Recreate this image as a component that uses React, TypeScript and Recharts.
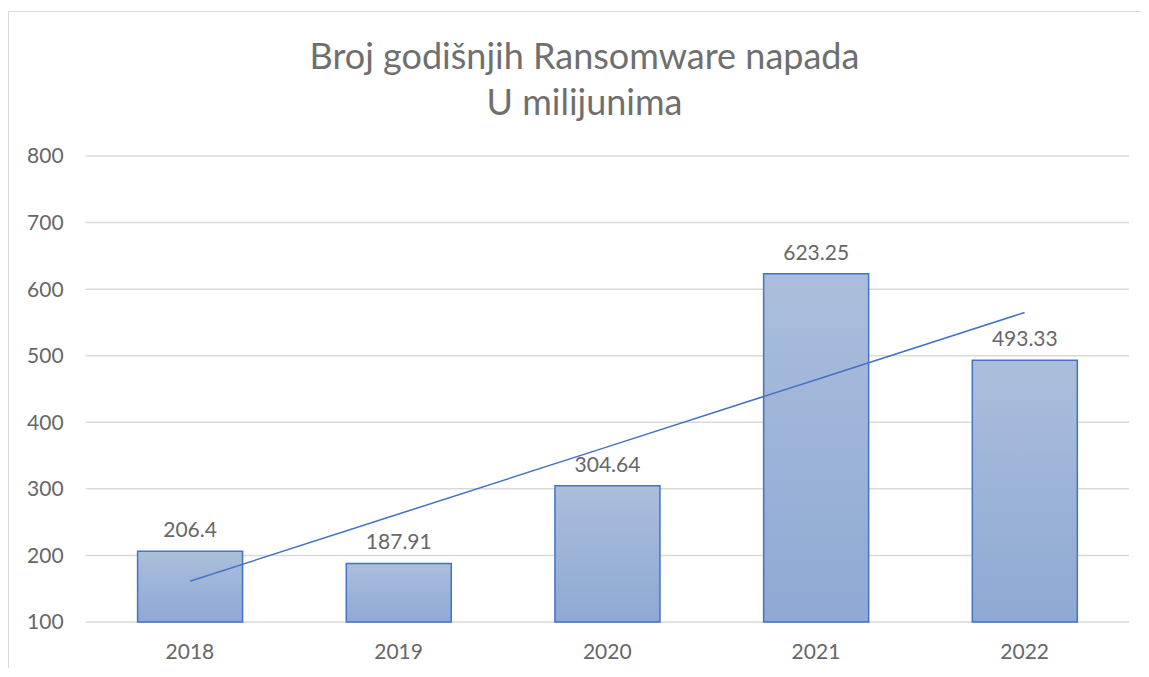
import React from "react";
import { ComposedChart, Bar, Line, XAxis, YAxis, CartesianGrid, LabelList } from "recharts";

const years = ["2018", "2019", "2020", "2021", "2022"];
const attacks = [206.4, 187.91, 304.64, 623.25, 493.33];
const trend = [161.3, 262.2, 363.1, 464.0, 565.0];
const yTicks = [100, 200, 300, 400, 500, 600, 700, 800];
const titleLines = ["Broj godišnjih Ransomware napada", "U milijunima"];

const data = years.map((y, i) => ({ year: y, value: attacks[i], trend: trend[i] }));

const FONT = "Lato, 'Open Sans', sans-serif";
const TEXT = "#676767";

export default function App() {
  return (
    <div style={{ position: "relative", width: 1133, height: 660, overflow: "hidden", background: "#fff", fontFamily: FONT }}>
      <div style={{ position: "absolute", left: 0, top: 3, width: 1300, height: 800, border: "1px solid #d9d9d9", boxSizing: "border-box" }} />
      <div style={{ position: "absolute", left: 0, top: 24, width: 1153, textAlign: "center", color: "#6f6f6f", fontSize: 36, lineHeight: "46px" }}>
        {titleLines.map((t) => (
          <div key={t}>{t}</div>
        ))}
      </div>
      <div style={{ position: "absolute", left: 0, top: 0 }}>
        <ComposedChart width={1133} height={660} data={data} margin={{ top: 148, right: 12, bottom: 16, left: 0 }} barSize={105}>
          <defs>
            <linearGradient id="barGrad" x1="0" y1="0" x2="0" y2="1">
              <stop offset="0%" stopColor="#abbedc" />
              <stop offset="100%" stopColor="#8ea9d4" />
            </linearGradient>
          </defs>
          <CartesianGrid vertical={false} stroke="#d9d9d9" strokeWidth={1.5} />
          <XAxis dataKey="year" axisLine={false} tickLine={false} tickSize={0} tickMargin={22} height={30}
            tick={{ fill: TEXT, fontSize: 21, fontFamily: FONT }} />
          <YAxis domain={[100, 800]} ticks={yTicks} width={77.6} axisLine={false} tickLine={false} tickSize={0} tickMargin={22}
            tick={{ fill: TEXT, fontSize: 21, fontFamily: FONT }} />
          <Bar dataKey="value" fill="url(#barGrad)" stroke="#4472c4" strokeWidth={1.5} isAnimationActive={false}>
            <LabelList dataKey="value" position="top" offset={14} fill={TEXT} fontSize={21} fontFamily={FONT} />
          </Bar>
          <Line dataKey="trend" type="linear" stroke="#4472c4" strokeWidth={1.5} dot={false} activeDot={false} isAnimationActive={false} />
        </ComposedChart>
      </div>
    </div>
  );
}
